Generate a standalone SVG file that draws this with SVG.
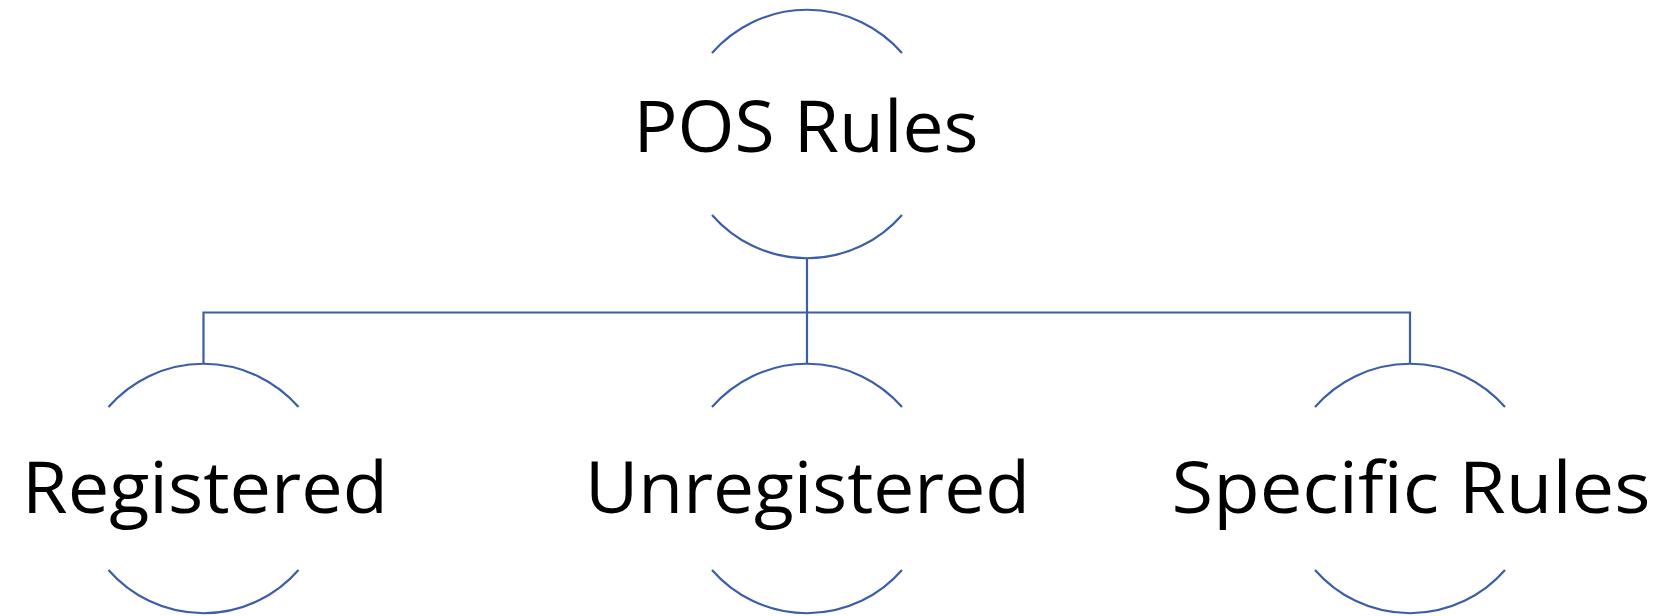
<svg xmlns="http://www.w3.org/2000/svg" width="1670" height="616" viewBox="0 0 1670 616">
<style>
.arc{fill:none;stroke:#3B5EA6;stroke-width:2.2}
.con{fill:none;stroke:#3B5EA6;stroke-width:2.2}
.lbl{font-family:"Open Sans","Liberation Sans",sans-serif;font-size:72px;fill:#000;text-anchor:middle}
</style>
<rect width="1670" height="616" fill="#fff"/>
<g id="connectors">
<path class="con" d="M807 259 V312 M203.5 363 V312.5 H1410 V363 M807 312 V363"/>
</g>
<g id="node-pos-rules">
<path class="arc" d="M712 53 A126 126 0 0 1 902 53"/>
<path class="arc" d="M712 215 A126 126 0 0 0 902 215"/>
<text class="lbl" x="806" y="151.5" textLength="345" lengthAdjust="spacingAndGlyphs">POS Rules</text>
</g>
<g id="node-registered">
<path class="arc" d="M108.5 407 A126 126 0 0 1 298.5 407"/>
<path class="arc" d="M108.5 570 A126 126 0 0 0 298.5 570"/>
<text class="lbl" x="205" y="513" textLength="366" lengthAdjust="spacingAndGlyphs">Registered</text>
</g>
<g id="node-unregistered">
<path class="arc" d="M712 407 A126 126 0 0 1 902 407"/>
<path class="arc" d="M712 570 A126 126 0 0 0 902 570"/>
<text class="lbl" x="807.5" y="513" textLength="445" lengthAdjust="spacingAndGlyphs">Unregistered</text>
</g>
<g id="node-specific-rules">
<path class="arc" d="M1315 407 A126 126 0 0 1 1505 407"/>
<path class="arc" d="M1315 570 A126 126 0 0 0 1505 570"/>
<text class="lbl" x="1411" y="513" textLength="479" lengthAdjust="spacingAndGlyphs">Specific Rules</text>
</g>
</svg>
